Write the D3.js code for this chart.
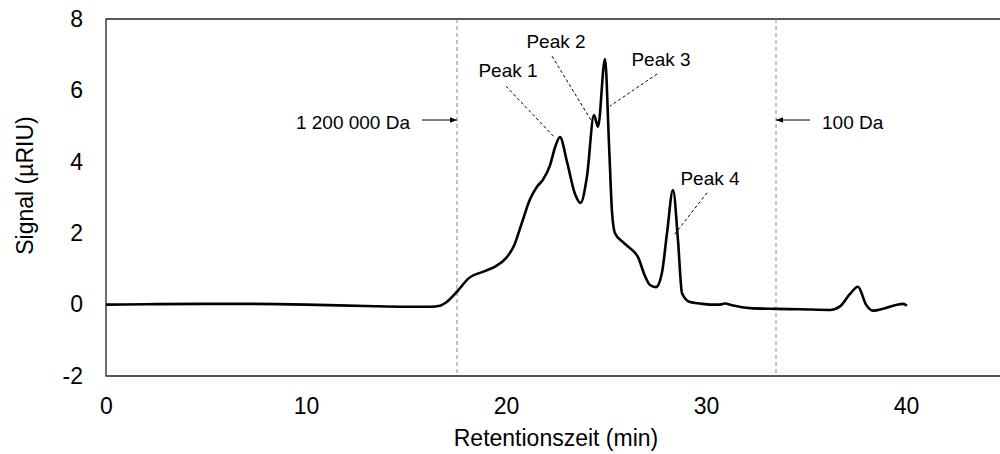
<!DOCTYPE html>
<html>
<head>
<meta charset="utf-8">
<script src="https://cdn.jsdelivr.net/npm/d3@7"></script>
<style>
  body { margin: 0; background: #fff; }
  svg { font-family: "Liberation Sans", Arial, sans-serif; }
</style>
</head>
<body>
<div id="chart"></div>
<script>
// retention time (min) and RI signal (µRIU)
const times = [0, 2, 5, 7, 10, 13, 15, 16.2, 16.7, 17.05, 17.55, 18.1, 19.0, 19.5, 20.0, 20.4,
  20.8, 21.2, 21.55, 21.85, 22.2, 22.45, 22.7, 23.05, 23.45, 23.73, 24.05, 24.4, 24.6, 24.95, 25.15, 25.3,
  25.45, 25.85, 26.2, 26.6, 26.95, 27.2, 27.5, 27.8, 28.05, 28.35, 28.6, 28.8, 29.2, 29.7,
  30.2, 30.7, 30.95, 31.3, 32.2, 33.5, 34.7, 36.2, 36.7, 37.2, 37.6, 38.0, 38.35, 38.95, 39.85, 40.05];
const signal = [0.0, 0.01, 0.02, 0.02, 0.0, -0.04, -0.06, -0.06, -0.03, 0.08, 0.36, 0.72, 0.95, 1.08, 1.3, 1.65,
  2.3, 2.95, 3.3, 3.5, 3.9, 4.4, 4.69, 4.0, 3.1, 2.85, 3.6, 5.31, 4.98, 6.88, 4.5, 2.6,
  2.0, 1.75, 1.58, 1.33, 0.8, 0.55, 0.49, 0.9, 2.0, 3.21, 1.8, 0.32, 0.07, 0.03,
  0.0, 0.0, 0.03, -0.02, -0.1, -0.12, -0.13, -0.15, -0.05, 0.3, 0.5, 0.0, -0.17, -0.1, 0.02, -0.03];

const xTicks = [0, 10, 20, 30, 40];
const yTicks = [-2, 0, 2, 4, 6, 8];

// molecular weight markers (dashed verticals)
const markerTimes = [17.55, 33.5];
const markerLabels = ['1 200 000 Da', '100 Da'];

// peak labels: text position and leader line end (time, signal)
const peakNames = ['Peak 1', 'Peak 2', 'Peak 3', 'Peak 4'];
const peakLabelT = [20.1, 22.5, 27.75, 30.2];
const peakLabelV = [6.57, 7.38, 6.88, 3.55];
const peakLeadFrom = [[20.0, 6.12], [22.3, 6.96], [27.55, 6.46], [30.05, 3.13]];
const peakLeadTo = [[22.45, 4.67], [24.3, 5.12], [25.2, 5.56], [28.4, 1.95]];

const width = 1000, height = 454;
const margin = { left: 106, top: 19, bottom: 78 };
const tickFont = 23, titleFont = 23, noteFont = 19;

const svg = d3.select('#chart').append('svg')
  .attr('width', width)
  .attr('height', height);

const x = d3.scaleLinear().domain([0, 50]).range([margin.left, margin.left + 1000]);
const y = d3.scaleLinear().domain([-2, 8]).range([height - margin.bottom, margin.top]);

svg.append('defs').append('marker')
  .attr('id', 'arrow')
  .attr('viewBox', '0 0 10 10')
  .attr('refX', 10).attr('refY', 5)
  .attr('markerWidth', 9).attr('markerHeight', 7)
  .attr('markerUnits', 'userSpaceOnUse')
  .attr('orient', 'auto')
  .append('path')
  .attr('d', 'M0,1 L10,5 L0,9 Z')
  .attr('fill', '#000');

// frame (left, top, bottom; right edge runs off the page)
const x0 = x(0), xEnd = width + 5;
svg.append('path')
  .attr('d', `M${xEnd},${y(8)} H${x0} V${y(-2)} H${xEnd}`)
  .attr('fill', 'none')
  .attr('stroke', '#222')
  .attr('stroke-width', 1.3);

// axes
const xAxis = d3.axisBottom(x).tickValues(xTicks).tickSize(0).tickPadding(22)
  .tickFormat(d => String(d));
svg.append('g')
  .attr('transform', `translate(0,${y(-2)})`)
  .call(xAxis)
  .call(g => g.select('.domain').remove())
  .selectAll('text')
  .attr('font-size', tickFont)
  .attr('fill', '#000');

const yAxis = d3.axisLeft(y).tickValues(yTicks).tickSize(0).tickPadding(23)
  .tickFormat(d => String(d));
svg.append('g')
  .attr('transform', `translate(${x0},0)`)
  .call(yAxis)
  .call(g => g.select('.domain').remove())
  .selectAll('text')
  .attr('font-size', tickFont)
  .attr('fill', '#000');

svg.selectAll('.tick text').attr('font-family', '"Liberation Sans", Arial, sans-serif');

svg.append('text')
  .attr('x', 556).attr('y', 446)
  .attr('text-anchor', 'middle')
  .attr('font-size', titleFont)
  .text('Retentionszeit (min)');

svg.append('text')
  .attr('transform', `translate(33,${(y(8) + y(-2)) / 2 - 12}) rotate(-90)`)
  .attr('text-anchor', 'middle')
  .attr('font-size', titleFont)
  .text('Signal (µRIU)');

// dashed marker lines
svg.selectAll('.marker')
  .data(markerTimes)
  .enter().append('line')
  .attr('class', 'marker')
  .attr('x1', d => x(d)).attr('x2', d => x(d))
  .attr('y1', y(8)).attr('y2', y(-2))
  .attr('stroke', '#888')
  .attr('stroke-width', 1)
  .attr('stroke-dasharray', '4,3');

// marker arrows + labels
const arrowV = 5.17;
svg.append('line')
  .attr('x1', x(15.8)).attr('x2', x(markerTimes[0]))
  .attr('y1', y(arrowV)).attr('y2', y(arrowV))
  .attr('stroke', '#000').attr('stroke-width', 1)
  .attr('marker-end', 'url(#arrow)');
svg.append('line')
  .attr('x1', x(35.2)).attr('x2', x(markerTimes[1]))
  .attr('y1', y(arrowV)).attr('y2', y(arrowV))
  .attr('stroke', '#000').attr('stroke-width', 1)
  .attr('marker-end', 'url(#arrow)');

svg.append('text')
  .attr('x', x(15.2)).attr('y', y(5.11))
  .attr('dy', '0.35em')
  .attr('text-anchor', 'end')
  .attr('font-size', noteFont)
  .text(markerLabels[0]);
svg.append('text')
  .attr('x', x(35.8)).attr('y', y(5.11))
  .attr('dy', '0.35em')
  .attr('text-anchor', 'start')
  .attr('font-size', noteFont)
  .text(markerLabels[1]);

// chromatogram
const line = d3.line()
  .x(d => x(d[0]))
  .y(d => y(d[1]))
  .curve(d3.curveMonotoneX);

svg.append('path')
  .datum(times.map((t, i) => [t, signal[i]]))
  .attr('d', line)
  .attr('fill', 'none')
  .attr('stroke', '#000')
  .attr('stroke-width', 2.6)
  .attr('stroke-linejoin', 'round');

// peak leaders + labels
svg.selectAll('.leader')
  .data(peakNames)
  .enter().append('line')
  .attr('class', 'leader')
  .attr('x1', (d, i) => x(peakLeadFrom[i][0]))
  .attr('y1', (d, i) => y(peakLeadFrom[i][1]))
  .attr('x2', (d, i) => x(peakLeadTo[i][0]))
  .attr('y2', (d, i) => y(peakLeadTo[i][1]))
  .attr('stroke', '#000')
  .attr('stroke-width', 1)
  .attr('stroke-dasharray', '3,2.5');

svg.selectAll('.peak-label')
  .data(peakNames)
  .enter().append('text')
  .attr('class', 'peak-label')
  .attr('x', (d, i) => x(peakLabelT[i]))
  .attr('y', (d, i) => y(peakLabelV[i]))
  .attr('dy', '0.35em')
  .attr('text-anchor', 'middle')
  .attr('font-size', noteFont)
  .text(d => d);
</script>
</body>
</html>
